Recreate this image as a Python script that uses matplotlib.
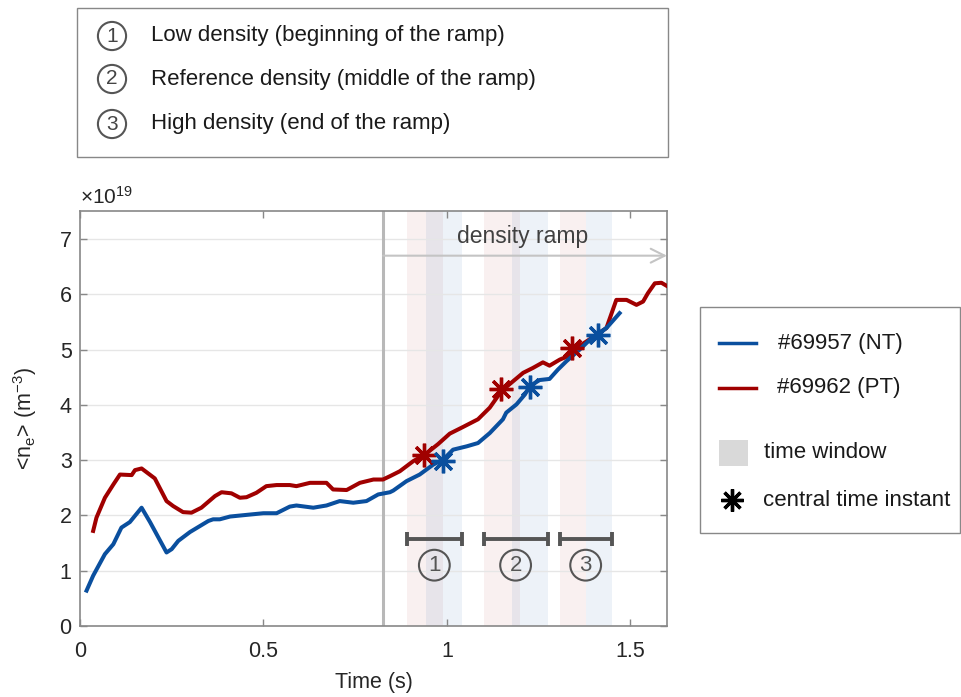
import numpy as np
import matplotlib
matplotlib.use("Agg")
import matplotlib.pyplot as plt
from matplotlib.patches import Rectangle
from matplotlib.lines import Line2D

plt.rcParams['font.family'] = ['Liberation Sans', 'DejaVu Sans']
plt.rcParams['mathtext.default'] = 'regular'

# line-averaged density, units of 1e19 m^-3
t_nt = [0.018, 0.036, 0.068, 0.091, 0.113, 0.136, 0.168, 0.191, 0.236, 0.25,
        0.268, 0.30, 0.35, 0.363, 0.381, 0.409, 0.454, 0.50, 0.536, 0.572,
        0.59, 0.636, 0.672, 0.708, 0.745, 0.781, 0.813, 0.845, 0.854, 0.89,
        0.926, 0.963, 0.99, 1.017, 1.054, 1.085, 1.117, 1.153, 1.162, 1.19,
        1.213, 1.226, 1.253, 1.28, 1.303, 1.326, 1.362, 1.39, 1.412, 1.435, 1.471]
ne_nt = [0.64, 0.91, 1.30, 1.48, 1.78, 1.88, 2.14, 1.88, 1.33, 1.39,
         1.54, 1.70, 1.90, 1.93, 1.93, 1.98, 2.01, 2.04, 2.04, 2.16,
         2.18, 2.14, 2.18, 2.26, 2.23, 2.26, 2.38, 2.42, 2.45, 2.62,
         2.74, 2.92, 3.01, 3.19, 3.25, 3.31, 3.49, 3.74, 3.86, 4.01,
         4.19, 4.34, 4.45, 4.47, 4.64, 4.79, 5.00, 5.18, 5.29, 5.39, 5.66]

t_pt = [0.036, 0.045, 0.068, 0.091, 0.109, 0.141, 0.15, 0.168, 0.204, 0.236,
        0.254, 0.281, 0.304, 0.331, 0.368, 0.386, 0.413, 0.436, 0.454, 0.481,
        0.508, 0.536, 0.572, 0.59, 0.627, 0.672, 0.69, 0.727, 0.763, 0.80,
        0.826, 0.845, 0.872, 0.908, 0.94, 0.976, 1.008, 1.044, 1.085, 1.117,
        1.149, 1.181, 1.208, 1.235, 1.262, 1.28, 1.308, 1.33, 1.353, 1.381,
        1.408, 1.435, 1.462, 1.49, 1.517, 1.535, 1.548, 1.567, 1.585, 1.603]
ne_pt = [1.72, 1.96, 2.32, 2.56, 2.74, 2.73, 2.82, 2.85, 2.67, 2.26,
         2.17, 2.06, 2.05, 2.14, 2.35, 2.42, 2.40, 2.32, 2.33, 2.41,
         2.53, 2.55, 2.55, 2.53, 2.59, 2.59, 2.47, 2.46, 2.59, 2.65,
         2.65, 2.71, 2.80, 2.98, 3.10, 3.29, 3.48, 3.60, 3.74, 3.95,
         4.25, 4.43, 4.58, 4.67, 4.77, 4.71, 4.82, 4.88, 5.03, 5.15,
         5.27, 5.39, 5.90, 5.90, 5.81, 5.87, 6.02, 6.20, 6.21, 6.14]

# time windows (start, end) for each shot
win_pt = [(0.891, 0.989), (1.10, 1.199), (1.308, 1.379)]
win_nt = [(0.943, 1.041), (1.177, 1.275), (1.379, 1.449)]
# central time instants
star_pt_t = [0.937, 1.148, 1.340]
star_pt_n = [3.10, 4.28, 5.03]
star_nt_t = [0.989, 1.226, 1.412]
star_nt_n = [2.99, 4.33, 5.27]

ramp_start = 0.826
labels = ['1', '2', '3']
descr = ['Low density (beginning of the ramp)',
         'Reference density (middle of the ramp)',
         'High density (end of the ramp)']

blue = '#0a4f9e'
red = '#a00000'
gray = '#555555'
txt = '#1a1a1a'
fs = 15.5

fig = plt.figure(figsize=(9.61, 6.97), dpi=100)
ax = fig.add_axes([0.0832, 0.1019, 0.6108, 0.5947])

for (a, b) in win_pt:
    ax.axvspan(a, b, color=(0.65, 0.0, 0.0), alpha=0.06, lw=0, zorder=0)
for (a, b) in win_nt:
    ax.axvspan(a, b, color=(0.0, 0.3, 0.65), alpha=0.07, lw=0, zorder=0)

ax.axvline(ramp_start, color='#b8b8b8', lw=2.2, zorder=1)
ax.annotate('', xy=(1.6, 6.7), xytext=(ramp_start, 6.7),
            arrowprops=dict(arrowstyle='->', color='#c4c4c4', lw=1.5,
                            mutation_scale=25, shrinkA=0, shrinkB=0),
            annotation_clip=False, zorder=1)
ax.text((ramp_start + 1.6) / 2 - 0.005, 7.04, 'density ramp', ha='center',
        va='center', fontsize=16.5, color='#404040')

ax.plot(t_pt, ne_pt, color=red, lw=2.9, zorder=3)
ax.plot(t_nt, ne_nt, color=blue, lw=2.9, zorder=3)
ax.plot(star_pt_t, star_pt_n, ls='none', marker=(8, 2, 0), ms=17, mew=2.4,
        color=red, zorder=4)
ax.plot(star_nt_t, star_nt_n, ls='none', marker=(8, 2, 0), ms=17, mew=2.4,
        color=blue, zorder=4)

for i in range(3):
    a = win_pt[i][0]
    b = win_nt[i][1]
    ax.errorbar([(a + b) / 2], [1.57], xerr=[[(b - a) / 2], [(b - a) / 2]],
                color=gray, lw=2.8, capsize=5, capthick=2.8, zorder=4)
    ax.text((a + b) / 2, 1.10, labels[i], ha='center', va='center',
            fontsize=16, color=gray,
            bbox=dict(boxstyle='circle,pad=0.22', fc='none', ec=gray, lw=1.5))

ax.set_xlim(0, 1.6)
ax.set_ylim(0, 7.5)
ax.set_xticks([0, 0.5, 1, 1.5])
ax.set_xticklabels(['0', '0.5', '1', '1.5'])
ax.set_yticks(range(8))
ax.yaxis.grid(True, color='#e6e6e6', lw=1.0)
ax.set_axisbelow(True)
ax.tick_params(direction='in', top=True, right=True, length=5, width=1,
               color='#888888', labelsize=fs, labelcolor='#262626')
ax.tick_params(axis='x', pad=11)
ax.tick_params(axis='y', pad=6)
for s in ax.spines.values():
    s.set_color('#888888')
    s.set_linewidth(1.2)
ax.set_xlabel('Time (s)', fontsize=fs, color='#262626', labelpad=7)
ax.set_ylabel('<n$_e$> (m$^{-3}$)', fontsize=fs, color='#262626', labelpad=15)
ax.text(0.0, 1.008, r'$\times10^{19}$', transform=ax.transAxes, fontsize=15,
        color='#262626', ha='left', va='bottom')

# top explanation box
fig.add_artist(Rectangle((0.0801, 0.775), 0.615, 0.2138, transform=fig.transFigure,
                         fc='white', ec='#888888', lw=1.0))
ys = [36, 79, 124]
for i in range(3):
    yf = 1 - ys[i] / 697
    fig.text(112 / 961, yf, labels[i], ha='center', va='center', fontsize=15,
             color='#444444',
             bbox=dict(boxstyle='circle,pad=0.22', fc='none', ec='#555555', lw=1.5))
    fig.text(151 / 961, yf, descr[i], ha='left', va='center', fontsize=16,
             color=txt)

# right legend
fig.add_artist(Rectangle((0.7284, 0.2353), 0.2706, 0.3243, transform=fig.transFigure,
                         fc='white', ec='#888888', lw=1.0))
fig.add_artist(Line2D([719 / 961, 756 / 961], [1 - 343 / 697, 1 - 343 / 697],
                      color=blue, lw=2.5, transform=fig.transFigure))
fig.text(778 / 961, 1 - 343 / 697, '#69957 (NT)', ha='left', va='center',
         fontsize=16, color=txt)
fig.add_artist(Line2D([719 / 961, 756 / 961], [1 - 388 / 697, 1 - 388 / 697],
                      color=red, lw=2.5, transform=fig.transFigure))
fig.text(777 / 961, 1 - 388 / 697, '#69962 (PT)', ha='left', va='center',
         fontsize=16, color=txt)
fig.add_artist(Rectangle((719 / 961, 1 - 466 / 697), 29 / 961, 26 / 697,
                         transform=fig.transFigure, fc='#d9d9d9', ec='none'))
fig.text(764 / 961, 1 - 452 / 697, 'time window', ha='left', va='center',
         fontsize=16, color=txt)
fig.add_artist(Line2D([732 / 961], [1 - 500 / 697], ls='none', marker=(8, 2, 0),
                      ms=16, mew=2.4, color='black', transform=fig.transFigure))
fig.text(763 / 961, 1 - 500 / 697, 'central time instant', ha='left', va='center',
         fontsize=16, color=txt)

fig.savefig('out.png', dpi=100)
